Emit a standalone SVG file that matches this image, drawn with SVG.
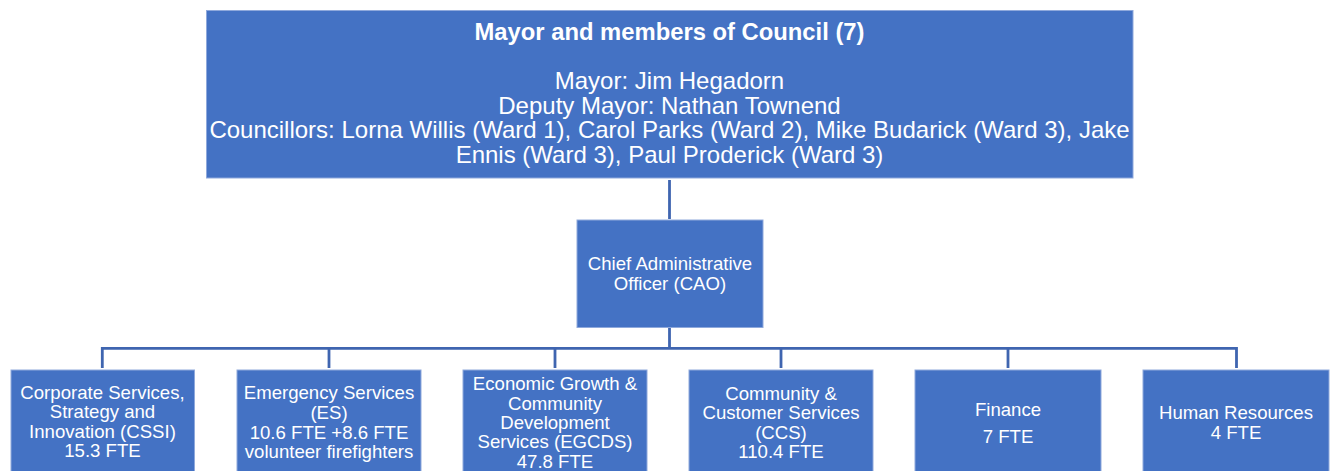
<svg xmlns="http://www.w3.org/2000/svg" width="1332" height="471" viewBox="0 0 1332 471">
  <style>
    .box { fill: #4472C4; stroke: #8FA9DC; stroke-width: 1; }
    .lbl { fill: #FFFFFF; font-family: "Liberation Sans", Arial, sans-serif; text-anchor: middle; }
    .top { font-size: 24px; }
    .ttl { font-weight: bold; font-size: 23.8px; }
    .sm { font-size: 18.6px; }
    .wire { fill: none; stroke: #3F65B0; stroke-width: 2.8; }
  </style>
  <rect width="1332" height="471" fill="#FFFFFF"/>

  <!-- reporting lines -->
  <g id="connectors">
    <path class="wire" d="M669.5 180 V219"/>
    <path class="wire" d="M669.5 328 V348.3"/>
    <path class="wire" d="M102.3 368 V348.3 H1236.5 V368"/>
    <path class="wire" d="M329 348.3 V368"/>
    <path class="wire" d="M555 348.3 V368"/>
    <path class="wire" d="M781 348.3 V368"/>
    <path class="wire" d="M1008 348.3 V368"/>
  </g>

  <g id="council">
    <rect class="box" x="206.5" y="10.5" width="926.5" height="167.5"/>
    <text class="lbl top ttl" x="669.5" y="40">Mayor and members of Council (7)</text>
    <text class="lbl top" x="669.5" y="89">Mayor: Jim Hegadorn</text>
    <text class="lbl top" x="669.5" y="113.5">Deputy Mayor: Nathan Townend</text>
    <text class="lbl top" x="669.5" y="138">Councillors: Lorna Willis (Ward 1), Carol Parks (Ward 2), Mike Budarick (Ward 3), Jake</text>
    <text class="lbl top" x="669.5" y="162.5">Ennis (Ward 3), Paul Proderick (Ward 3)</text>
  </g>

  <g id="cao">
    <rect class="box" x="577" y="220" width="186" height="107.5"/>
    <text class="lbl sm" x="670" y="270">Chief Administrative</text>
    <text class="lbl sm" x="670" y="290">Officer (CAO)</text>
  </g>

  <g id="cssi">
    <rect class="box" x="11" y="370" width="183.5" height="110"/>
    <text class="lbl sm" x="102.5" y="398.5">Corporate Services,</text>
    <text class="lbl sm" x="102.5" y="418">Strategy and</text>
    <text class="lbl sm" x="102.5" y="437.5">Innovation (CSSI)</text>
    <text class="lbl sm" x="102.5" y="457">15.3 FTE</text>
  </g>

  <g id="es">
    <rect class="box" x="237" y="370" width="184" height="110"/>
    <text class="lbl sm" x="329" y="399">Emergency Services</text>
    <text class="lbl sm" x="329" y="418.5">(ES)</text>
    <text class="lbl sm" x="329" y="438.5">10.6 FTE +8.6 FTE</text>
    <text class="lbl sm" x="329" y="458">volunteer firefighters</text>
  </g>

  <g id="egcds">
    <rect class="box" x="463" y="370" width="184" height="110"/>
    <text class="lbl sm" x="555" y="389.5">Economic Growth &amp;</text>
    <text class="lbl sm" x="555" y="409.5">Community</text>
    <text class="lbl sm" x="555" y="429">Development</text>
    <text class="lbl sm" x="555" y="448">Services (EGCDS)</text>
    <text class="lbl sm" x="555" y="467.5">47.8 FTE</text>
  </g>

  <g id="ccs">
    <rect class="box" x="689" y="370" width="184" height="110"/>
    <text class="lbl sm" x="781" y="400">Community &amp;</text>
    <text class="lbl sm" x="781" y="419">Customer Services</text>
    <text class="lbl sm" x="781" y="438.5">(CCS)</text>
    <text class="lbl sm" x="781" y="457.5">110.4 FTE</text>
  </g>

  <g id="finance">
    <rect class="box" x="915" y="370" width="186" height="110"/>
    <text class="lbl sm" x="1008" y="416">Finance</text>
    <text class="lbl sm" x="1008" y="443">7 FTE</text>
  </g>

  <g id="hr">
    <rect class="box" x="1143" y="370" width="186" height="110"/>
    <text class="lbl sm" x="1236" y="419">Human Resources</text>
    <text class="lbl sm" x="1236" y="438.5">4 FTE</text>
  </g>
</svg>
